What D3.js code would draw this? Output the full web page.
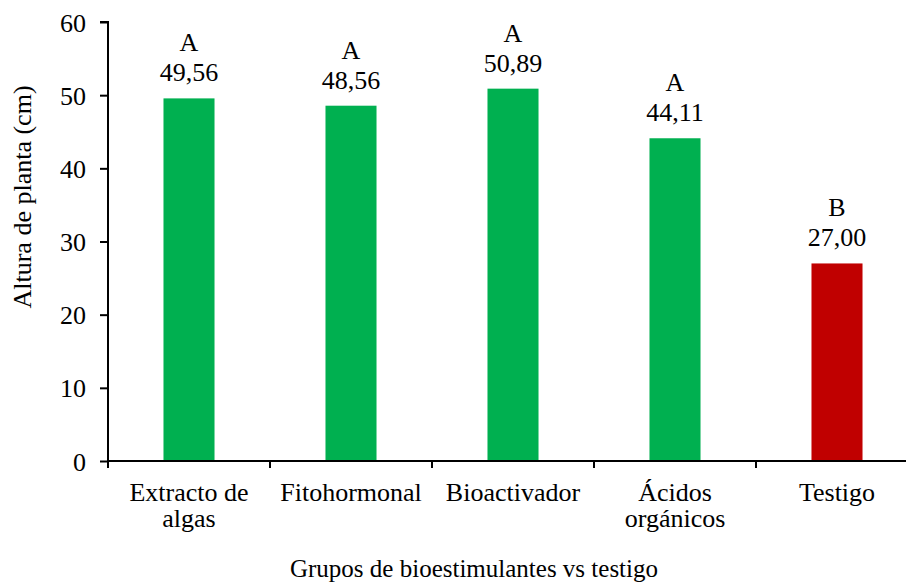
<!DOCTYPE html>
<html>
<head>
<meta charset="utf-8">
<script src="https://cdn.jsdelivr.net/npm/d3@7"></script>
<style>
  html, body { margin: 0; padding: 0; background: #fff; }
  svg { display: block; }
</style>
</head>
<body>
<svg id="chart" width="906" height="582"></svg>
<script>
// Plant height by biostimulant group
const categories = [["Extracto de", "algas"], ["Fitohormonal"], ["Bioactivador"], ["Ácidos", "orgánicos"], ["Testigo"]];
const heights = [49.56, 48.56, 50.89, 44.11, 27.00];
const groupLetters = ["A", "A", "A", "A", "B"];
const barColors = ["#00B050", "#00B050", "#00B050", "#00B050", "#C00000"];
const yTicks = [0, 10, 20, 30, 40, 50, 60];
const yTitle = "Altura de planta (cm)";
const xTitle = "Grupos de bioestimulantes vs testigo";

const FONT = "'Liberation Serif', 'Times New Roman', Tinos, 'DejaVu Serif', serif";

const svg = d3.select("#chart");
const plotLeft = 108, plotBottom = 461, plotTop = 22;

const keys = categories.map((c, i) => i);
const x = d3.scaleBand().domain(keys).range([plotLeft, plotLeft + 162 * keys.length])
  .paddingInner(0.685).paddingOuter(0.3425);
const y = d3.scaleLinear().domain([0, 60]).range([plotBottom, plotTop]);

const fmt = v => v.toFixed(2).replace(".", ",");

function label(parent, xPos, yPos, str, size) {
  return parent.append("text")
    .attr("x", xPos).attr("y", yPos)
    .attr("text-anchor", "middle")
    .style("font-family", FONT)
    .style("font-size", size + "px")
    .style("fill", "#000")
    .text(str);
}

// bars
svg.append("g").selectAll("rect").data(heights).join("rect")
  .attr("x", (d, i) => x(i))
  .attr("y", d => y(d))
  .attr("width", x.bandwidth())
  .attr("height", d => y(0) - y(d))
  .attr("fill", (d, i) => barColors[i]);

// value and group labels above bars
const lab = svg.append("g");
heights.forEach((d, i) => {
  const cx = x(i) + x.bandwidth() / 2;
  label(lab, cx, y(d) - 17, fmt(d), 26);
  label(lab, cx, y(d) - 47, groupLetters[i], 26);
});

// y axis
const yAxis = d3.axisLeft(y).tickValues(yTicks).tickSize(8).tickPadding(14).tickFormat(d3.format("d"));
const gy = svg.append("g").attr("transform", `translate(${plotLeft},0)`).call(yAxis);
gy.select(".domain").attr("stroke", "#000").attr("stroke-width", 2).attr("d", `M-8,${plotTop}H0V${plotBottom}`);
gy.selectAll(".tick line").attr("stroke", "#000").attr("stroke-width", 2);
gy.selectAll(".tick text")
  .style("font-family", FONT).style("font-size", "26px").style("fill", "#000")
  .attr("dy", "0.35em");

// x axis: boundaries between groups
const bounds = d3.range(keys.length + 1).map(i => plotLeft + 162 * i);
const gx = svg.append("g");
gx.append("line").attr("x1", plotLeft).attr("x2", 906).attr("y1", plotBottom).attr("y2", plotBottom)
  .attr("stroke", "#000").attr("stroke-width", 2);
gx.selectAll("line.tk").data(bounds).join("line").attr("class", "tk")
  .attr("x1", d => d).attr("x2", d => d).attr("y1", plotBottom).attr("y2", plotBottom + 7)
  .attr("stroke", "#000").attr("stroke-width", 2);

// category labels, one text per line
const cl = svg.append("g");
categories.forEach((lines, i) => {
  const cx = x(i) + x.bandwidth() / 2;
  lines.forEach((s, j) => label(cl, cx, 501 + 26 * j, s, 26));
});

// axis titles
label(svg, 474, 577, xTitle, 25);
label(svg, 0, 0, yTitle, 26).attr("transform", "translate(31,197) rotate(-90)");
</script>
</body>
</html>
